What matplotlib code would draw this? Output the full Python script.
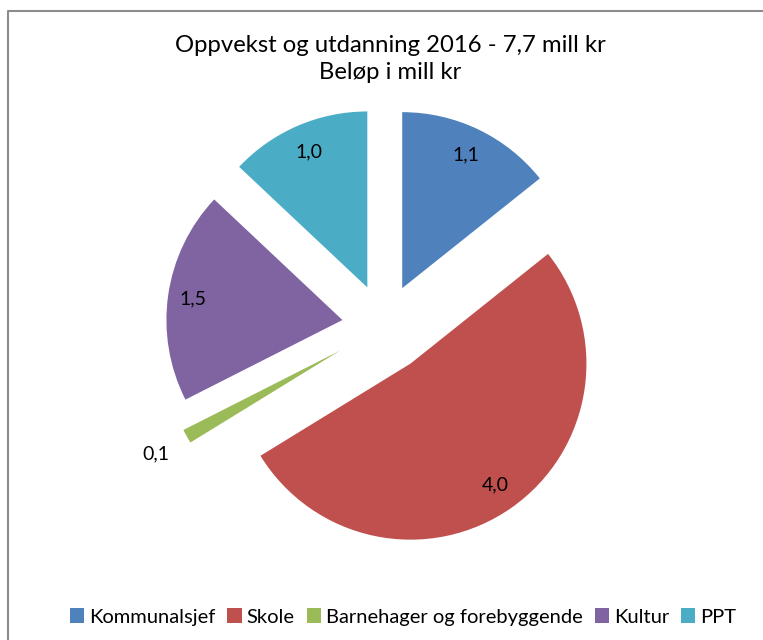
import matplotlib
matplotlib.use("Agg")
import matplotlib.pyplot as plt
from matplotlib.patches import Patch
import numpy as np

categories = ["Kommunalsjef", "Skole", "Barnehager og forebyggende", "Kultur", "PPT"]
values = [1.1, 4.0, 0.1, 1.5, 1.0]
value_labels = ["1,1", "4,0", "0,1", "1,5", "1,0"]
title = "Oppvekst og utdanning 2016 - 7,7 mill kr\nBeløp i mill kr"

colors = ["#4F81BD", "#C0504D", "#9BBB59", "#8064A2", "#4BACC6"]
FONT = ["Lato", "DejaVu Sans"]

W, H = 763, 640
fig = plt.figure(figsize=(W / 100, H / 100), dpi=100)
ax = fig.add_axes([0, 0, 1, 1])
ax.set_xlim(0, W)
ax.set_ylim(0, H)
ax.set_aspect("equal")
ax.axis("off")

# chart frame
ax.plot([7.5, 7.5, W + 5], [-5, H - 10.5, H - 10.5], color="#8c8c8c", lw=1.5,
        solid_capstyle="butt")

cx, cy, R = 384, H - 326, 176
explode = [42, 46, 50, 42, 42]
wedges, _ = ax.pie(values, colors=colors, startangle=90, counterclock=False,
                   center=(cx, cy), radius=R, explode=explode, frame=True,
                   wedgeprops=dict(linewidth=0))
ax.set_xlim(0, W)
ax.set_ylim(0, H)
ax.axis("off")

label_dist = [0.84, 0.84, 1.2, 0.86, 0.84]
for w, lab, d in zip(wedges, value_labels, label_dist):
    th = np.deg2rad((w.theta1 + w.theta2) / 2)
    x0, y0 = w.center
    ax.text(x0 + d * R * np.cos(th), y0 + d * R * np.sin(th), lab,
            ha="center", va="center", fontsize=14, family=FONT, color="#000000")

fig.text(0.511, 1 - 59 / H, title, ha="center", va="center", fontsize=17.2,
         family=FONT, linespacing=1.32)

handles = [Patch(facecolor=c, edgecolor="none") for c in colors]
fig.legend(handles, categories, loc="center", bbox_to_anchor=(403 / W, 1 - 617 / H),
           ncol=5, frameon=False, handlelength=0.7, handleheight=0.7,
           handletextpad=0.25, columnspacing=0.6,
           prop=dict(family=FONT, size=14.5))

fig.savefig("out.png", dpi=100)
